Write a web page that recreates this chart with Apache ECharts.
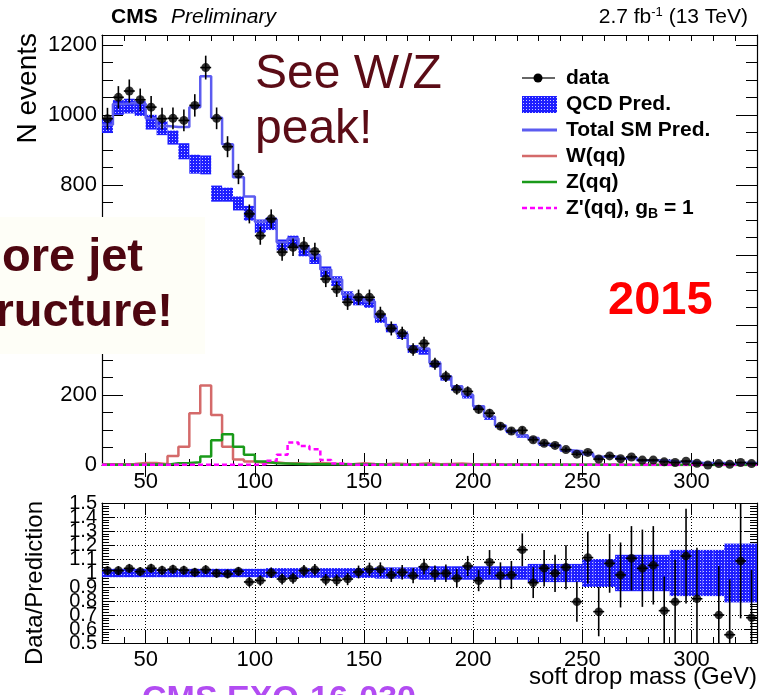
<!DOCTYPE html>
<html>
<head>
<meta charset="utf-8">
<script src="https://cdn.jsdelivr.net/npm/echarts@6/dist/echarts.min.js"></script>
<style>
html, body { margin: 0; padding: 0; background: #ffffff; }
#chart { width: 767px; height: 695px; }
</style>
</head>
<body>
<div id="chart"></div>
<script>
// Soft drop mass bins (lower edges, GeV) and bin width
const binLow = [30, 35, 40, 45, 50, 55, 60, 65, 70, 75, 80, 85, 90, 95, 100, 105, 110, 115, 120, 125,
  130, 135, 140, 145, 150, 155, 160, 165, 170, 175, 180, 185, 190, 195, 200, 205, 210, 215, 220, 225,
  230, 235, 240, 245, 250, 255, 260, 265, 270, 275, 280, 285, 290, 295, 300, 305, 310, 315, 320, 325];
const binWidth = 5;

// Observed events per bin and their statistical uncertainty
const dataCounts = [989, 1050, 1068, 1043, 1022, 989, 990, 984, 1027, 1135, 990, 909, 831, 717, 655, 703, 608, 622, 626, 610,
  531, 502, 465, 479, 479, 431, 390, 376, 330, 347, 289, 253, 216, 210, 159, 148, 111, 97, 99, 72,
  62, 56, 44, 31, 36, 17, 26, 18, 23, 14, 14, 9, 7, 11, 5, 0, 4, 2, 7, 4];
const dataErr = [31, 32, 33, 32, 32, 31, 31, 31, 32, 34, 31, 30, 29, 27, 26, 27, 25, 25, 25, 25,
  23, 22, 22, 22, 22, 21, 20, 19, 18, 19, 17, 16, 15, 14.5, 12.6, 12.2, 10.5, 9.8, 10, 8.5,
  7.9, 7.5, 6.6, 5.6, 6, 4.1, 5.1, 4.2, 4.8, 3.7, 3.7, 3, 2.6, 3.3, 2.2, 0, 2, 1.4, 2.6, 2];

// QCD prediction and its uncertainty
const qcdPred = [969, 1021, 1025, 1018, 979, 962, 935, 896, 859, 857, 775, 772, 747, 719, 682, 689, 628, 639, 612, 589,
  552, 525, 483, 469, 462, 418, 391, 371, 331, 325, 288, 249, 220, 197, 165, 134, 111, 95, 82, 75,
  57.5, 54.5, 40.5, 37.5, 30.5, 22, 23, 17, 20, 12.7, 12.5, 11.5, 8.2, 9.2, 5.5, 5.4, 5.2, 3.2, 6, 5.5];
const qcdErr = [21, 21, 21, 21, 21, 20, 20, 23, 27, 27, 23, 20, 20, 21, 19, 18, 16, 16, 16, 15,
  15, 14, 13, 13, 13, 12, 12, 11, 11, 10, 9, 8, 8, 7, 6, 5, 5, 4, 4, 4,
  3, 3, 3, 3, 3, 2, 2, 2, 2, 2, 2, 2, 1, 1, 1, 1, 1, 1, 1, 1];

// Total standard model prediction
const totalSM = [972, 1031, 1034, 1032, 990, 968, 965, 965, 1022, 1110, 992, 916, 822, 767, 695, 702, 636, 647, 618, 597,
  558, 530, 487, 476, 467, 421, 396, 374, 335, 331, 291, 253, 225, 200, 168, 138, 113, 98, 85, 77,
  60, 56, 42, 39, 32, 23.5, 24, 18.3, 20.8, 13.5, 13.3, 12.3, 8.8, 9.8, 6.1, 6, 5.7, 3.6, 6.4, 5.9];

// Resonant backgrounds and signal
const wqq = [2, 2, 3, 6, 6, 2, 26, 52, 148, 227, 143, 52, 16, 10, 6, 8, 4, 5, 3, 6,
  4, 3, 2, 5, 3, 2, 4, 2, 3, 5, 2, 3, 4, 2, 2, 3, 1, 2, 2, 1,
  2, 1, 1, 1, 1, 1, 0.5, 1, 0.5, 0.5, 0.5, 0.5, 0.3, 0.3, 0.3, 0.3, 0.2, 0.2, 0.2, 0.2];
const zqq = [1, 1, 1, 1, 2, 1, 5, 6, 8, 24, 71, 88, 52, 29, 10, 5, 4, 3, 3, 2,
  2, 2, 2, 2, 2, 1, 1, 1, 1, 1, 1, 1, 1, 1, 1, 1, 1, 1, 1, 1,
  0.5, 0.5, 0.5, 0.5, 0.5, 0.5, 0.5, 0.3, 0.3, 0.3, 0.3, 0.3, 0.3, 0.3, 0.3, 0.3, 0.3, 0.3, 0.3, 0.3];
const zprime = [0.5, 0.5, 0.5, 0.5, 0.5, 0.5, 0.5, 0.5, 0.5, 0.5, 0.5, 0.5, 0.5, 0.5, 2, 12, 29, 64, 54, 45,
  14, 4, 1, 1, 1, 1, 1, 1, 1, 1, 0.5, 0.5, 0.5, 0.5, 0.5, 0.5, 0.5, 0.5, 0.5, 0.5,
  0.5, 0.5, 0.5, 0.5, 0.5, 0.5, 0.5, 0.5, 0.5, 0.5, 0.5, 0.5, 0.5, 0.5, 0.5, 0.5, 0.5, 0.5, 0.5, 0.5];

// Data / prediction ratio, its uncertainty and the prediction uncertainty band
const ratio = [1.017, 1.017, 1.033, 1.010, 1.034, 1.020, 1.027, 1.020, 1.005, 1.024, 0.998, 0.993, 1.012, 0.936, 0.946, 1.002, 0.957, 0.963, 1.017, 1.024,
  0.952, 0.948, 0.957, 1.007, 1.027, 1.027, 0.986, 1.005, 0.981, 1.045, 0.995, 0.998, 0.962, 1.050, 0.945, 1.076, 0.983, 0.986, 1.166, 0.931,
  1.034, 0.998, 1.041, 0.795, 1.110, 0.724, 1.069, 0.986, 1.105, 1.034, 1.055, 0.731, 0.795, 1.121, 0.816, null, 0.700, 0.559, 1.086, 0.681];
const ratioErr = [0.032, 0.032, 0.032, 0.032, 0.032, 0.032, 0.032, 0.032, 0.032, 0.032, 0.032, 0.032, 0.032, 0.035, 0.037, 0.038, 0.039, 0.039, 0.041, 0.041,
  0.041, 0.042, 0.044, 0.046, 0.047, 0.049, 0.050, 0.052, 0.054, 0.056, 0.059, 0.063, 0.065, 0.072, 0.075, 0.088, 0.093, 0.100, 0.117, 0.110,
  0.131, 0.133, 0.157, 0.143, 0.185, 0.176, 0.210, 0.232, 0.230, 0.276, 0.280, 0.244, 0.300, 0.338, 0.365, null, 0.350, 0.395, 0.410, 0.340];
const ratioBand = [0.03, 0.03, 0.03, 0.03, 0.03, 0.03, 0.03, 0.03, 0.03, 0.03, 0.03, 0.03, 0.03, 0.03, 0.03, 0.035, 0.035, 0.035, 0.035, 0.035,
  0.035, 0.035, 0.035, 0.035, 0.035, 0.04, 0.04, 0.04, 0.04, 0.048, 0.048, 0.048, 0.048, 0.048, 0.048, 0.048, 0.048, 0.048, 0.048, 0.065,
  0.065, 0.065, 0.065, 0.065, 0.10, 0.10, 0.10, 0.13, 0.13, 0.13, 0.13, 0.13, 0.165, 0.165, 0.165, 0.165, 0.165, 0.21, 0.21, 0.21];

// Axis tick values
const massTicks = [50, 100, 150, 200, 250, 300];
const eventTicks = [0, 200, 400, 600, 800, 1000, 1200];
const ratioTicksOdd = [0.5, 0.7, 0.9, 1.1, 1.3, 1.5];
const ratioTicksEven = [0.6, 0.8, 1, 1.2, 1.4];

const FONT = 'Liberation Sans';
const BLACK = '#000000';

// Dotted blue fill used for the QCD uncertainty
function makeHatch() {
  const c = document.createElement('canvas');
  c.width = 3; c.height = 3;
  const g = c.getContext('2d');
  g.fillStyle = '#1e1eff';
  g.fillRect(0, 0, 3, 3);
  g.fillStyle = '#c8c8ff';
  g.fillRect(1, 1, 1, 1);
  return c;
}
const hatchCanvas = makeHatch();
const hatch = { image: hatchCanvas, repeat: 'repeat' };

// Histogram outline points built from bin edges
function stepLine(values) {
  const pts = [];
  for (let i = 0; i < binLow.length; i++) {
    pts.push([binLow[i], values[i]]);
    pts.push([binLow[i] + binWidth, values[i]]);
  }
  return pts;
}

const bandTop = binLow.map((lo, i) => [lo, lo + binWidth, qcdPred[i] - qcdErr[i], qcdPred[i] + qcdErr[i]]);
const bandRatio = binLow.map((lo, i) => [lo, lo + binWidth, 1 - ratioBand[i], 1 + ratioBand[i]]);
const dataPts = binLow.map((lo, i) => [lo + binWidth / 2, dataCounts[i], dataErr[i]]);
const ratioPts = [];
binLow.forEach((lo, i) => { if (ratio[i] !== null) ratioPts.push([lo + binWidth / 2, ratio[i], ratioErr[i]]); });

function renderBand(params, api) {
  const a = api.coord([api.value(0), api.value(3)]);
  const b = api.coord([api.value(1), api.value(2)]);
  const cs = params.coordSys;
  const y0 = Math.max(a[1], cs.y), y1 = Math.min(b[1], cs.y + cs.height);
  return {
    type: 'rect',
    shape: { x: a[0], y: y0, width: b[0] - a[0], height: Math.max(0, y1 - y0) },
    style: { fill: hatch }
  };
}

function renderErr(params, api) {
  const x = api.value(0), y = api.value(1), e = api.value(2);
  const cs = params.coordSys;
  const clampY = v => Math.min(Math.max(v, cs.y), cs.y + cs.height);
  const c = api.coord([x, y]);
  const t = api.coord([x, y + e]);
  const b = api.coord([x, y - e]);
  const l = api.coord([x - binWidth / 2, y]);
  const r = api.coord([x + binWidth / 2, y]);
  const st = { stroke: BLACK, lineWidth: 1.6 };
  return {
    type: 'group',
    children: [
      { type: 'line', shape: { x1: c[0], y1: clampY(t[1]), x2: c[0], y2: clampY(b[1]) }, style: st },
      { type: 'line', shape: { x1: l[0], y1: c[1], x2: r[0], y2: c[1] }, style: st }
    ]
  };
}

function xAxes(grid, withLabels) {
  const base = { gridIndex: grid, type: 'value', min: 30, max: 330, splitLine: { show: false } };
  const line = { show: true, onZero: false, lineStyle: { color: BLACK, width: 1.2 } };
  return [
    Object.assign({}, base, {
      position: 'bottom', interval: 10, axisLine: line,
      axisTick: { inside: true, length: 6, lineStyle: { color: BLACK, width: 1 } },
      axisLabel: withLabels
        ? { customValues: massTicks, fontFamily: FONT, fontSize: 22, color: BLACK, margin: 6 }
        : { show: false }
    }),
    Object.assign({}, base, {
      position: 'bottom', axisLine: { show: false },
      axisTick: { inside: true, length: 12, customValues: massTicks, lineStyle: { color: BLACK, width: 1 } },
      axisLabel: { show: false }
    }),
    Object.assign({}, base, {
      position: 'top', interval: 10, axisLine: line,
      axisTick: { inside: true, length: 6, lineStyle: { color: BLACK, width: 1 } },
      axisLabel: { show: false }
    }),
    Object.assign({}, base, {
      position: 'top', axisLine: { show: false },
      axisTick: { inside: true, length: 12, customValues: massTicks, lineStyle: { color: BLACK, width: 1 } },
      axisLabel: { show: false }
    })
  ];
}

const yLine = { show: true, onZero: false, lineStyle: { color: BLACK, width: 1.2 } };
const ratioLabel = { fontFamily: FONT, fontSize: 20, color: BLACK, margin: 5,
  showMinLabel: true, showMaxLabel: true, hideOverlap: false,
  formatter: v => (Math.round(v * 10) / 10).toString() };
const yAxes = [
  // event counts, left side minor ticks
  { gridIndex: 0, type: 'value', position: 'left', min: 0, max: 1228, interval: 50, axisLine: yLine,
    axisTick: { inside: true, length: 11, lineStyle: { color: BLACK } }, axisLabel: { show: false }, splitLine: { show: false } },
  // event counts, left side major ticks and labels
  { gridIndex: 0, type: 'value', position: 'left', min: 0, max: 1228, axisLine: { show: false },
    axisTick: { inside: true, length: 21, customValues: eventTicks, lineStyle: { color: BLACK } },
    axisLabel: { customValues: eventTicks, fontFamily: FONT, fontSize: 22, color: BLACK, margin: 5,
      formatter: v => String(v) },
    splitLine: { show: false } },
  { gridIndex: 0, type: 'value', position: 'right', min: 0, max: 1228, interval: 50, axisLine: yLine,
    axisTick: { inside: true, length: 11, lineStyle: { color: BLACK } }, axisLabel: { show: false }, splitLine: { show: false } },
  { gridIndex: 0, type: 'value', position: 'right', min: 0, max: 1228, axisLine: { show: false },
    axisTick: { inside: true, length: 21, customValues: eventTicks, lineStyle: { color: BLACK } },
    axisLabel: { show: false }, splitLine: { show: false } },
  // ratio panel: ticks, grid and every other label
  { gridIndex: 1, type: 'value', position: 'left', min: 0.5, max: 1.5, interval: 0.1, axisLine: yLine,
    axisTick: { inside: true, length: 12, lineStyle: { color: BLACK } },
    minorTick: { show: true, splitNumber: 5, length: 7, lineStyle: { color: BLACK } },
    axisLabel: Object.assign({ customValues: ratioTicksOdd }, ratioLabel),
    splitLine: { show: true, lineStyle: { color: BLACK, type: [1, 2], width: 1 } } },
  { gridIndex: 1, type: 'value', position: 'right', min: 0.5, max: 1.5, interval: 0.1, axisLine: yLine,
    axisTick: { inside: true, length: 12, lineStyle: { color: BLACK } },
    minorTick: { show: true, splitNumber: 5, length: 7, lineStyle: { color: BLACK } },
    axisLabel: { show: false }, splitLine: { show: false } },
  // ratio panel: remaining labels
  { gridIndex: 1, type: 'value', position: 'left', min: 0.5, max: 1.5, axisLine: { show: false },
    axisTick: { show: false }, splitLine: { show: false },
    axisLabel: Object.assign({ customValues: ratioTicksEven }, ratioLabel) }
];

function histo(name, values, color, dash, z) {
  return {
    name: name, type: 'line', xAxisIndex: 0, yAxisIndex: 0, data: stepLine(values),
    showSymbol: false, symbol: 'none', animation: false, z: z,
    lineStyle: { color: color, width: 2.5, type: dash || 'solid' }
  };
}

function legendRow(y, symbol, label) {
  const items = symbol.slice();
  items.push({ type: 'text', z: 50, style: { x: 566, y: y, text: label.text, rich: label.rich,
    font: 'bold 21px "Liberation Sans"', fill: BLACK, textAlign: 'left', textVerticalAlign: 'middle',
    align: 'left', verticalAlign: 'middle' } });
  return items;
}

const legendItems = [].concat(
  legendRow(78, [
    { type: 'line', z: 50, shape: { x1: 522, y1: 78, x2: 555, y2: 78 }, style: { stroke: '#333', lineWidth: 1.5 } },
    { type: 'circle', z: 50, shape: { cx: 538, cy: 78, r: 4.5 }, style: { fill: BLACK } }
  ], { text: 'data' }),
  legendRow(104, [
    { type: 'rect', z: 50, shape: { x: 522, y: 96, width: 35, height: 17 }, style: { fill: hatch } }
  ], { text: 'QCD Pred.' }),
  legendRow(130, [
    { type: 'line', z: 50, shape: { x1: 522, y1: 130, x2: 557, y2: 130 }, style: { stroke: '#5c5cf0', lineWidth: 3 } }
  ], { text: 'Total SM Pred.' }),
  legendRow(156, [
    { type: 'line', z: 50, shape: { x1: 522, y1: 156, x2: 557, y2: 156 }, style: { stroke: '#d46a6a', lineWidth: 2.5 } }
  ], { text: 'W(qq)' }),
  legendRow(182, [
    { type: 'line', z: 50, shape: { x1: 522, y1: 182, x2: 557, y2: 182 }, style: { stroke: '#1a9a1a', lineWidth: 2.5 } }
  ], { text: 'Z(qq)' }),
  legendRow(208, [
    { type: 'line', z: 50, shape: { x1: 522, y1: 208, x2: 557, y2: 208 }, style: { stroke: '#ff00ff', lineWidth: 2.5, lineDash: [5, 3] } }
  ], { text: "Z'(qq), g{sub|B} = 1", rich: { sub: { fontSize: 14, fontWeight: 'bold', fontFamily: FONT, verticalAlign: 'bottom', padding: [12, 0, 0, 0] } } })
);

const option = {
  animation: false,
  backgroundColor: '#ffffff',
  grid: [
    { left: 102, top: 35, width: 655, height: 430 },
    { left: 102, top: 503, width: 655, height: 140 }
  ],
  xAxis: xAxes(0, true).concat(xAxes(1, true)),
  yAxis: yAxes,
  series: [
    { name: 'QCD Pred.', type: 'custom', xAxisIndex: 0, yAxisIndex: 0, data: bandTop,
      encode: { x: [0, 1], y: [2, 3] }, renderItem: renderBand, z: 2 },
    histo('W(qq)', wqq, '#d46a6a', null, 3),
    histo('Z(qq)', zqq, '#1a9a1a', null, 3),
    histo("Z'(qq)", zprime, '#ff00ff', [5, 3], 3),
    histo('Total SM Pred.', totalSM, '#5c5cf0', null, 4),
    { name: 'data errors', type: 'custom', xAxisIndex: 0, yAxisIndex: 0, data: dataPts,
      encode: { x: 0, y: 1 }, renderItem: renderErr, z: 5 },
    { name: 'data', type: 'scatter', xAxisIndex: 0, yAxisIndex: 0, data: dataPts.map(p => [p[0], p[1]]),
      symbol: 'circle', symbolSize: 9, itemStyle: { color: BLACK }, z: 6 },
    // ratio panel
    { name: 'Prediction uncertainty', type: 'custom', xAxisIndex: 4, yAxisIndex: 4, data: bandRatio,
      encode: { x: [0, 1], y: [2, 3] }, renderItem: renderBand, z: 2,
      markLine: { silent: true, z: 1, symbol: 'none', label: { show: false }, animation: false,
        lineStyle: { color: BLACK, type: [1, 2], width: 1 },
        data: massTicks.map(v => ({ xAxis: v })) } },
    { name: 'ratio errors', type: 'custom', xAxisIndex: 4, yAxisIndex: 4, data: ratioPts,
      encode: { x: 0, y: 1 }, renderItem: renderErr, z: 5 },
    { name: 'ratio', type: 'scatter', xAxisIndex: 4, yAxisIndex: 4, data: ratioPts.map(p => [p[0], p[1]]),
      symbol: 'circle', symbolSize: 8.5, itemStyle: { color: BLACK }, z: 6 }
  ],
  graphic: [
    { type: 'text', z: 50, style: { x: 111, y: 17.5, text: 'CMS', font: 'bold 21px "Liberation Sans"', fill: BLACK,
      textVerticalAlign: 'middle', verticalAlign: 'middle' } },
    { type: 'text', z: 50, style: { x: 171, y: 17.5, text: 'Preliminary', font: 'italic 21px "Liberation Sans"', fill: BLACK,
      textVerticalAlign: 'middle', verticalAlign: 'middle' } },
    { type: 'text', z: 50, style: { x: 748, y: 17.5, text: '2.7 fb{sup|-1} (13 TeV)', font: '21px "Liberation Sans"', fill: BLACK,
      textAlign: 'right', align: 'right', textVerticalAlign: 'middle', verticalAlign: 'middle',
      rich: { sup: { fontSize: 13, fontFamily: FONT, verticalAlign: 'top', padding: [0, 0, 10, 0] } } } },
    { type: 'text', z: 50, x: 42, y: 33, rotation: Math.PI / 2,
      style: { x: 0, y: 0, text: 'N events', font: '28px "Liberation Sans"', fill: BLACK,
        textAlign: 'right', align: 'right', textVerticalAlign: 'bottom', verticalAlign: 'bottom' } },
    { type: 'text', z: 50, x: 47, y: 583, rotation: Math.PI / 2,
      style: { x: 0, y: 0, text: 'Data/Prediction', font: '24px "Liberation Sans"', fill: BLACK,
        textAlign: 'center', align: 'center', textVerticalAlign: 'bottom', verticalAlign: 'bottom' } },
    { type: 'text', z: 50, style: { x: 757, y: 677, text: 'soft drop mass (GeV)', font: '24px "Liberation Sans"', fill: BLACK,
      textAlign: 'right', align: 'right', textVerticalAlign: 'middle', verticalAlign: 'middle' } }
  ].concat(legendItems).concat([
    { type: 'text', z: 60, style: { x: 255, y: 74.5, text: 'See W/Z', font: '48px "Liberation Sans"', fill: '#5b0c16',
      textVerticalAlign: 'middle', verticalAlign: 'middle' } },
    { type: 'text', z: 60, style: { x: 255, y: 130, text: 'peak!', font: '48px "Liberation Sans"', fill: '#5b0c16',
      textVerticalAlign: 'middle', verticalAlign: 'middle' } },
    { type: 'text', z: 60, style: { x: 608, y: 301.5, text: '2015', font: 'bold 47px "Liberation Sans"', fill: '#ff0000',
      textVerticalAlign: 'middle', verticalAlign: 'middle' } },
    { type: 'rect', z: 70, shape: { x: 0, y: 217, width: 205, height: 137 }, style: { fill: '#fefef7' } },
    { type: 'text', z: 71, style: { x: 143, y: 258, text: 'More jet', font: 'bold 47px "Liberation Sans"', fill: '#4e0610',
      textAlign: 'right', align: 'right', textVerticalAlign: 'middle', verticalAlign: 'middle' } },
    { type: 'text', z: 71, style: { x: 173, y: 313, text: 'substructure!', font: 'bold 47px "Liberation Sans"', fill: '#4e0610',
      textAlign: 'right', align: 'right', textVerticalAlign: 'middle', verticalAlign: 'middle' } },
    { type: 'text', z: 71, style: { x: 142, y: 683, text: 'CMS EXO-16-030', font: 'bold 34px "Liberation Sans"', fill: '#b24cf2',
      textVerticalAlign: 'top', verticalAlign: 'top' } }
  ])
};

const chart = echarts.init(document.getElementById('chart'), null, { renderer: 'canvas' });
chart.setOption(option);
</script>
</body>
</html>
